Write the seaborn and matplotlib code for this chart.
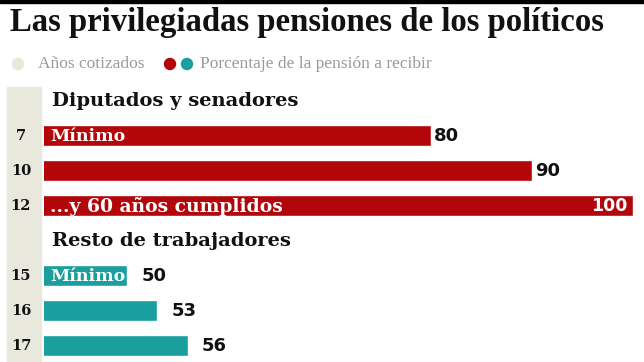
import matplotlib
matplotlib.use("Agg")
import matplotlib.pyplot as plt
import matplotlib.transforms as mtransforms
import seaborn as sns
import pandas as pd
from matplotlib.patches import Rectangle, Ellipse

title = "Las privilegiadas pensiones de los políticos"
legend_years = "Años cotizados"
legend_pct = "Porcentaje de la pensión a recibir"
section_labels = ["Diputados y senadores", "Resto de trabajadores"]
row_order = ["h1", "7", "10", "12", "h2", "15", "16", "17"]
years = ["7", "10", "12", "15", "16", "17"]
pct = [80, 90, 100, 50, 53, 56]
group = ["pol", "pol", "pol", "rest", "rest", "rest"]
inner_labels = ["Mínimo", "", "...y 60 años cumplidos", "Mínimo", "", ""]

RED = "#b3060b"
TEAL = "#1a9e9e"
BEIGE = "#e9e8dc"

sns.set_theme(style="white")
plt.rcParams["font.family"] = ["Liberation Serif", "DejaVu Serif"]

df = pd.DataFrame({"year": years, "pct": pct, "group": group})

fig = plt.figure(figsize=(6.44, 3.62), dpi=100)
W, H = 644, 362
# beige column (behind the axes)
fig.patches.append(Rectangle((7 / W, 0), 34 / W, (362 - 87) / H, transform=fig.transFigure,
                             color=BEIGE, zorder=-5))
# top black rule
fig.patches.append(Rectangle((0, 1 - 3 / H), 1, 3 / H, transform=fig.transFigure,
                             color="black", zorder=-5))

ax = fig.add_axes([44 / W, -0.004, 600 / W, 0.7735])
ax.patch.set_alpha(0)
sns.barplot(data=df, x="pct", y="year", hue="group", order=row_order,
            palette={"pol": RED, "rest": TEAL}, dodge=False, width=0.6,
            legend=False, ax=ax, saturation=1)
ax.set_xlim(41.8, 101.1)
ax.set_ylim(7.5, -0.5)
for s in ax.spines.values():
    s.set_visible(False)
ax.set_xticks([])
ax.set_yticks([])
ax.set_xlabel("")
ax.set_ylabel("")

# year labels in the beige column
trans = mtransforms.blended_transform_factory(fig.transFigure, ax.transData)
for y in years:
    ax.text(21 / W, row_order.index(y), y, transform=trans, fontsize=10.5,
            fontweight="bold", color="#111111", va="center", ha="center",
            family=["DejaVu Serif"], clip_on=False)

# section headers
for lab, ypos in zip(section_labels, [0, 4]):
    ax.text(42.6, ypos, lab, fontsize=14, fontweight="bold", color="#111111",
            va="center", ha="left", family=["DejaVu Serif"])

# bar labels
for y, v, g, inner in zip(years, pct, group, inner_labels):
    ypos = row_order.index(y)
    if inner:
        ax.text(42.4, ypos + 0.02, inner, fontsize=13.5 if len(inner) > 8 else 12.5,
                fontweight="bold", color="white", va="center", ha="left",
                family=["DejaVu Serif"])
    if v >= 100:
        ax.text(v - 0.5, ypos, str(v), fontsize=12.5, fontweight="bold", color="white",
                va="center", ha="right", family=["DejaVu Sans"])
    else:
        off = 0.3 if g == "pol" else 1.4
        ax.text(v + off, ypos, str(v), fontsize=13, fontweight="bold", color="#111111",
                va="center", ha="left", family=["DejaVu Sans"])

# title
fig.text(10 / W, 1 - 23 / H, title, fontsize=23.6, fontweight="bold", color="#111111",
         va="center", ha="left")

# legend
yl = 1 - 64 / H
for cx, col in [(18, BEIGE), (170, RED), (187, TEAL)]:
    fig.patches.append(Ellipse((cx / W, yl), 11 / W, 11 / H, transform=fig.transFigure,
                               color=col, zorder=2))
fig.text(38 / W, yl, legend_years, fontsize=12.5, color="#9a9a9a", va="center", ha="left")
fig.text(200 / W, yl, legend_pct, fontsize=12.5, color="#9a9a9a", va="center", ha="left")

fig.savefig("out.png", dpi=100)
